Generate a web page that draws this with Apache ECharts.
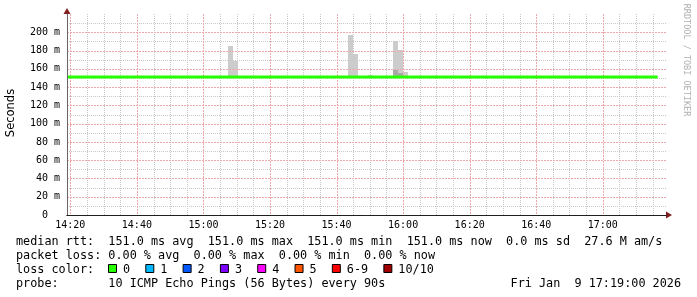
<!DOCTYPE html>
<html><head><meta charset="utf-8">
<script src="https://cdn.jsdelivr.net/npm/echarts@6/dist/echarts.min.js"></script>
<style>html,body{margin:0;padding:0;background:#fff}#c{width:697px;height:297px}</style>
</head><body><div id="c"></div><script>
// ---- data (x in minutes after 14:00) ----
const xStartMin = 19;   // 14:19
const xEndMin = 199;    // 17:19
const xTickValues = [20,40,60,80,100,120,140,160,180];
const xTickLabels = ['14:20','14:40','15:00','15:20','15:40','16:00','16:20','16:40','17:00'];
const yTickValues = [0,20,40,60,80,100,120,140,160,180,200];
const yTickLabels = ['0  ','20 m','40 m','60 m','80 m','100 m','120 m','140 m','160 m','180 m','200 m'];
const medianTimes = [19, 196.5];
const medianValues = [151.0, 151.0];
const smokeTimes = [68.13, 69.63, 104.18, 105.68, 110.18, 117.69, 119.19, 120.69, 189.82];
const smokeMin   = [151, 151, 151, 151, 151, 151, 151, 151, 151];
const smokeMid   = [151, 151, 151, 151, 151, 158.8, 155.2, 151, 151];
const smokeMax   = [184.7, 168.3, 196.7, 176.0, 153.0, 190.2, 180.3, 156.3, 152.5];
const lossLabels = ['0','1','2','3','4','5','6-9','10/10'];
const lossColors = ['#26ff00','#00b8ff','#0059ff','#7e00ff','#ff00ff','#ff5500','#ff0000','#a10000'];
const statLines = [
  'median rtt:  151.0 ms avg  151.0 ms max  151.0 ms min  151.0 ms now  0.0 ms sd  27.6 M am/s',
  'packet loss: 0.00 % avg  0.00 % max  0.00 % min  0.00 % now',
  'loss color:',
  'probe:       10 ICMP Echo Pings (56 Bytes) every 90s'
];
const dateText = 'Fri Jan  9 17:19:00 2026';

// ---- grid helper values ----
const yMax = 220;
const xMinorValues = [];
for (let v = 20; v < xEndMin; v += 5) if (v % 20 !== 0) xMinorValues.push(v);
const yMajorGrid = yTickValues.filter(v => v > 0);
const yMinorValues = [];
for (let v = 10; v < yMax; v += 20) yMinorValues.push(v);

// ---- build ----
const MONO = '"DejaVu Sans Mono", monospace';
const FS = 11.8;
const MAJOR = '#eeaaaa', MINOR = '#c8c8c8';
const chart = echarts.init(document.getElementById('c'), null, {renderer:'canvas'});
const STEP = 1.5;
function smokeSeries(lo, hi, color, name) {
  return {
    type:'custom', name, z: 0, silent:true,
    data: smokeTimes.map((t,i)=>[t, lo[i], hi[i]]),
    renderItem(params, api) {
      const t = api.value(0), a = api.value(1), b = api.value(2);
      const p1 = api.coord([t - STEP/2, b]);
      const p2 = api.coord([t + STEP/2, a]);
      return {type:'rect', shape:{x:Math.round(p1[0]), y:Math.round(p1[1]), width:Math.round(p2[0])-Math.round(p1[0]), height:Math.round(p2[1])-Math.round(p1[1])}, style:{fill:color}};
    }
  };
}
function vGrid(values, color, dash, z) {
  return {
    type:'custom', z, silent:true, clip:false,
    data: values.map(v => [v, 0]),
    renderItem(params, api) {
      const cs = params.coordSys;
      const x = Math.round(api.coord([api.value(0), 0])[0]) + 0.5;
      return {type:'line', shape:{x1:x, y1:cs.y, x2:x, y2:cs.y + cs.height}, style:{stroke:color, lineWidth:1, lineDash:dash}};
    }
  };
}
function hGrid(values, color, dash, z) {
  return {
    type:'custom', z, silent:true, clip:false,
    data: values.map(v => [xStartMin, v]),
    renderItem(params, api) {
      const cs = params.coordSys;
      const y = Math.round(api.coord([xStartMin, api.value(1)])[1]) + 0.5;
      return {type:'line', shape:{x1:cs.x, y1:y, x2:cs.x + cs.width, y2:y}, style:{stroke:color, lineWidth:1, lineDash:dash}};
    }
  };
}
const ctx = document.createElement('canvas').getContext('2d');
ctx.font = FS + 'px ' + MONO;
const cw = ctx.measureText('0').width;

const graphics = [];
const rowY = [241, 255, 269, 283];
statLines.forEach((s,i)=>{
  graphics.push({type:'text', left:16, top: rowY[i]-5, style:{text:s, font: FS+'px '+MONO, fill:'#000'}});
});
graphics.push({type:'text', right:16, top: rowY[3]-5, style:{text:dateText, font: FS+'px '+MONO, fill:'#000'}});
let lx = 108;
lossLabels.forEach((l,i)=>{
  graphics.push({type:'rect', shape:{x:lx+0.5, y:rowY[2]-4.5, width:8, height:8}, style:{fill:lossColors[i], stroke:'#000', lineWidth:1}});
  graphics.push({type:'text', x:lx+15, y:rowY[2]-5, style:{text:l, font: FS+'px '+MONO, fill:'#000'}});
  lx += 15 + cw*(l.length + 2) + 1;
});
graphics.push({type:'text', x:11, y:113, rotation:Math.PI/2, style:{text:'Seconds', font:'11.5px "DejaVu Sans"', fill:'#000', align:'center', verticalAlign:'middle'}});
graphics.push({type:'text', x:686, y:60, rotation:-Math.PI/2, style:{text:'RRDTOOL / TOBI OETIKER', font:'8.5px '+MONO, fill:'#b0b0b0', align:'center', verticalAlign:'middle'}});

const option = {
  animation:false,
  backgroundColor:'#fff',
  grid:{left:67, right:31, top:14, bottom:82},
  xAxis:[{
    type:'value', min:xStartMin, max:xEndMin, z:6,
    axisLine:{show:true, onZero:false, lineStyle:{color:'#1f1f1f', width:1}},
    axisTick:{show:false, customValues:xTickValues},
    axisLabel:{margin:5, fontFamily:'DejaVu Sans Mono', fontSize:10, color:'#000', customValues:xTickValues,
      formatter:v=>{const k=xTickValues.indexOf(v); return k>=0 ? xTickLabels[k] : '';}},
    splitLine:{show:false}
  },{
    type:'value', min:xStartMin, max:xEndMin, z:5, position:'bottom',
    axisLine:{show:true, onZero:false, symbol:['none','triangle'], symbolSize:[7,6], symbolOffset:[0,3], lineStyle:{color:'#801f1f'}},
    axisTick:{show:false}, axisLabel:{show:false}, splitLine:{show:false}
  }],
  yAxis:[{
    type:'value', min:0, max:yMax, z:6,
    axisLine:{show:true, onZero:false, lineStyle:{color:'#666', width:1}},
    axisTick:{show:false, customValues:yTickValues},
    axisLabel:{margin:7, fontFamily:'DejaVu Sans Mono', fontSize:10, color:'#000', customValues:yTickValues,
      formatter:v=>{const k=yTickValues.indexOf(v); return k>=0 ? yTickLabels[k] : '';}},
    splitLine:{show:false}
  },{
    type:'value', min:0, max:yMax, z:5, position:'left',
    axisLine:{show:true, onZero:false, symbol:['none','triangle'], symbolSize:[7,6], symbolOffset:[0,3], lineStyle:{color:'#801f1f'}},
    axisTick:{show:false}, axisLabel:{show:false}, splitLine:{show:false}
  }],
  series:[
    smokeSeries(smokeMin, smokeMax, '#cccccc', 'smoke'),
    smokeSeries(smokeMin, smokeMid, '#a8a8a8', 'smokeInner'),
    vGrid(xMinorValues, MINOR, [1,1], 1),
    hGrid(yMinorValues, MINOR, [1,1], 1),
    vGrid(xTickValues, MAJOR, [2,1], 2),
    hGrid(yMajorGrid, MAJOR, [2,1], 2),
    {type:'line', name:'median', data: medianTimes.map((t,i)=>[t, medianValues[i]]), z:3,
     showSymbol:false, lineStyle:{color:lossColors[0], width:3}, silent:true}
  ],
  graphic: graphics
};
chart.setOption(option);
</script></body></html>
